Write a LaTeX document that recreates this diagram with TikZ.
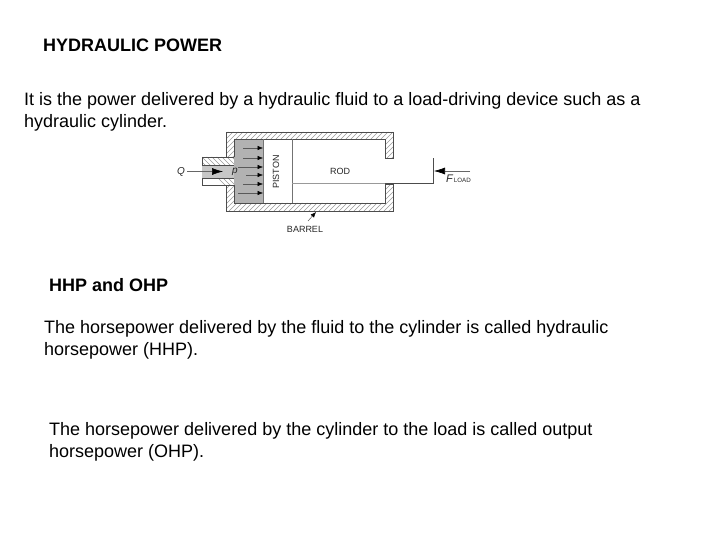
\documentclass[tikz,border=0pt]{standalone}
\usepackage{fontspec}
\setmainfont{Liberation Sans}
\usetikzlibrary{arrows.meta}
\tikzset{
  body/.style={anchor=base west,inner sep=0pt,font=\fontsize{18}{20}\selectfont},
  head/.style={body,font=\fontsize{18}{20}\selectfont\bfseries},
  lab/.style={inner sep=0pt,text=black!85,font=\fontsize{9}{10}\selectfont},
  ln/.style={draw=black!70,line width=0.7pt},
  hatchline/.style={draw=black!40,line width=0.45pt},
  arr/.style={draw=black!60,line width=0.6pt,-{Latex[length=11pt,width=7pt,black]}},
  sarr/.style={draw=black!65,line width=0.5pt,-{Latex[length=5.5pt,width=4.5pt,black]}}
}
\begin{document}
\begin{tikzpicture}[x=1pt,y=-1pt]
\useasboundingbox (0,0) rectangle (720,540);
\fill[white] (0,0) rectangle (720,540);
% texts
\node[head] (t1) at (43,52) {HYDRAULIC POWER};
\node[body] (t2) at (24,106) {It is the power delivered by a hydraulic fluid to a load-driving device such as a};
\node[body] (t3) at (24,128) {hydraulic cylinder.};
\node[head] (t4) at (49,291) {HHP and OHP};
\node[body] (t5) at (44,333) {The horsepower delivered by the fluid to the cylinder is called hydraulic};
\node[body] (t6) at (44,355) {horsepower (HHP).};
\node[body] (t7) at (49,435) {The horsepower delivered by the cylinder to the load is called output};
\node[body] (t8) at (49,457) {horsepower (OHP).};
% fluid
\fill[black!30] (234,139) rectangle (263,203);
\fill[black!22] (202,165) rectangle (234,178);
% hatched barrel
\begin{scope}
\clip (226,132) -- (393,132) -- (393,158) -- (385,158) -- (385,139) -- (234,139)
  -- (234,157) -- (226,157) -- cycle
  (226,185) -- (234,185) -- (234,203) -- (385,203) -- (385,184) -- (393,184) -- (393,211) -- (226,211) -- cycle;
\foreach \k in {-80,-75,...,280} { \draw[hatchline] (180+\k,225) -- (180+\k+100,125); }
\end{scope}
\begin{scope}
\clip (202,157) rectangle (234,165) (202,178) rectangle (234,185);
\foreach \k in {0,5,...,60} { \draw[hatchline] (190+\k,150) -- (190+\k+40,190); }
\end{scope}
% barrel outlines
\draw[ln] (234,157) -- (234,139) -- (385,139) -- (385,158) -- (393,158) -- (393,132) -- (226,132) -- (226,157);
\draw[ln] (234,185) -- (234,203) -- (385,203) -- (385,184) -- (393,184) -- (393,211) -- (226,211) -- (226,185);
\draw[ln] (234,157) -- (202,157) -- (202,165) -- (234,165);
\draw[ln] (234,178) -- (202,178) -- (202,185) -- (234,185);
% piston and rod
\draw[ln,draw=black!55] (263,139) -- (263,203);
\draw[ln,draw=black!55] (292,139) -- (292,203);
\coordinate (rs) at (292,183);
\coordinate (rm) at (385,183);
\coordinate (re) at (433,183);
\coordinate (rt) at (433,158);
\draw[ln,draw=black!40] (rs) -- (rm);
\draw[ln] (rm) -- (re) -- (rt);
% labels
\node[lab,rotate=90] (piston) at (276,172) {PISTON};
\node[lab] (rod) at (340,171) {ROD};
\node[lab] (barrel) at (305,229) {BARREL};
\node[lab,font=\fontsize{10}{10}\selectfont\itshape] (q) at (181,172) {Q};
\node[lab,font=\fontsize{10}{10}\selectfont\itshape] (p) at (235,172) {p};
\node[lab,anchor=base west] (fl) at (446,183) {\fontsize{11}{11}\selectfont\itshape F\kern1pt\fontsize{6.2}{7}\selectfont\upshape LOAD};
% arrows
\coordinate (qs) at (187,171.5);
\coordinate (qe) at (223,171.5);
\draw[arr] (qs) -- (qe);
\coordinate (fs) at (470,171);
\coordinate (fe) at (434,171);
\draw[arr] (fs) -- (fe);
\foreach \y/\xs in {148/243,158/243,167/238,175/246,184/243,193/238} {
  \coordinate (a\y) at (\xs,\y);
  \coordinate (b\y) at (263,\y);
  \draw[sarr] (a\y) -- (b\y);
}
\coordinate (bs) at (316,212);
\coordinate (be) at (308,221);
\draw[draw=black!65,line width=0.5pt,{Latex[length=5.5pt,width=4.5pt,black]}-] (bs) -- (be);
\end{tikzpicture}
\end{document}
